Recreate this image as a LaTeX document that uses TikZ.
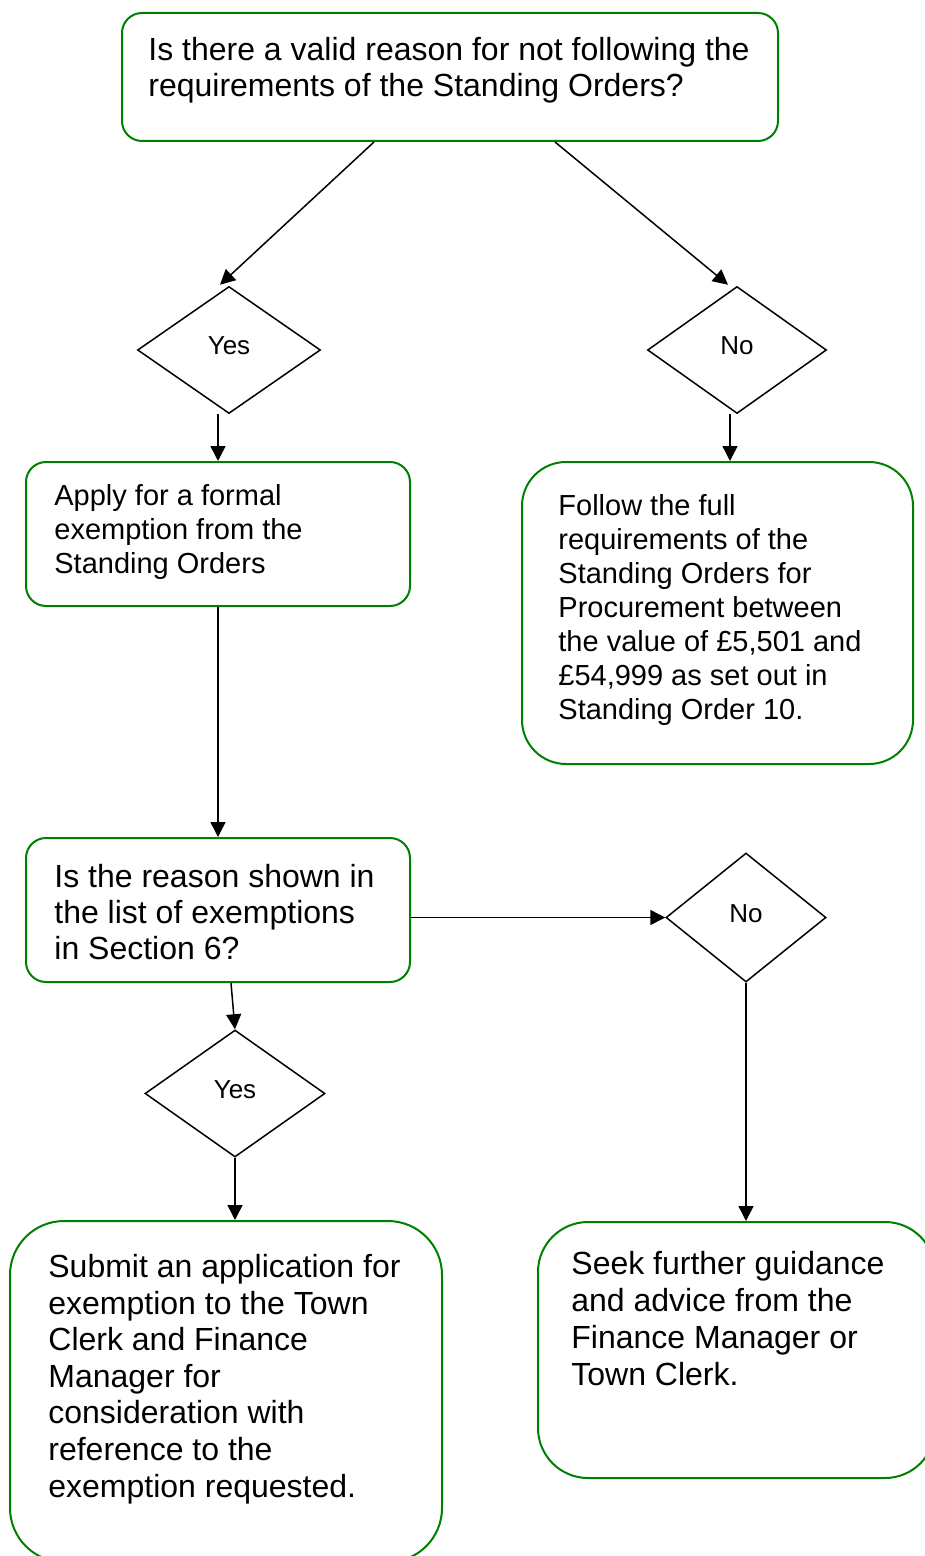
\documentclass[tikz,border=0pt]{standalone}
\usepackage{fontspec}
\setmainfont{Liberation Sans}
\usetikzlibrary{positioning,calc,fit,shapes.geometric,arrows.meta}
\definecolor{boxgreen}{RGB}{0,128,0}
\tikzstyle{box}=[draw=boxgreen, line width=1pt, rounded corners=10pt, inner sep=0pt]
\tikzstyle{bigbox}=[box, rounded corners=22pt]
\tikzstyle{dec}=[draw, diamond, line width=0.75pt, inner sep=0pt, minimum width=91.5pt, minimum height=63.5pt, font=\fontsize{13}{15}\selectfont]
\tikzstyle{txt}=[anchor=base west, align=left, inner sep=0pt, font=\fontsize{16}{18}\selectfont]
\tikzstyle{smalltxt}=[txt, font=\fontsize{14.5}{17}\selectfont]
\tikzstyle{arrow}=[-{Triangle[length=7.5pt,width=7.5pt]}, line width=0.75pt]

\begin{document}
\begin{tikzpicture}[x=0.5pt, y=-0.5pt]
        \useasboundingbox (0,0) rectangle (925,1556);
        % question at the top (texts are placed by their last baseline)
        \node (top) [box, fit={(122,13) (778,141)}] {};
        \node (toptxt) [txt] at (148,97) {Is there a valid reason for not following the\\requirements of the Standing Orders?};
        \node (yes1) [dec] at (229,350) {\raisebox{4pt}{Yes}};
        \node (no1) [dec, minimum width=89.5pt] at (737,350) {\raisebox{4pt}{No}};
        \draw[arrow] ([shift={(-76,0)}]top.south) -- ([shift={(-9,-1)}]yes1.north);
        \draw[arrow] ([shift={(105,0)}]top.south) -- ([shift={(-9,-1)}]no1.north);
        % left branch
        \node (apply) [box, fit={(26,462) (410,606)}] {};
        \node (applytxt) [smalltxt] at (54,573) {Apply for a formal\\exemption from the\\Standing Orders};
        \draw[arrow] (yes1.south -| apply.north) -- (apply.north);
        % right branch
        \node (follow) [bigbox, fit={(522,462) (913,764)}] {};
        \node (followtxt) [smalltxt] at (558,719) {Follow the full\\requirements of the\\Standing Orders for\\Procurement between\\the value of \pounds5,501 and\\\pounds54,999 as set out in\\Standing Order 10.};
        \coordinate (nodrop) at ([shift={(-7,0)}]no1.south);
        \draw[arrow] (nodrop) -- (nodrop |- follow.north);
        % second question
        \node (reason) [box, fit={(26,838) (410,982)}] {};
        \node (reasontxt) [txt] at (54,959) {Is the reason shown in\\the list of exemptions\\in Section 6?};
        \draw[arrow] (apply.south) -- (reason.north);
        \node (yes2) [dec, minimum width=90pt] at (235,1093.5) {\raisebox{4pt}{Yes}};
        \node (no2) [dec, minimum width=80pt, minimum height=64.5pt] at (746,917.5) {\raisebox{4pt}{No}};
        \draw[arrow] (reason.east |- no2.west) -- (no2.west);
        \draw[arrow] ([shift={(13,0)}]reason.south) -- (yes2.north);
        % outcomes
        \node (submit) [bigbox, rounded corners=27pt, fit={(10,1221) (442,1562)}] {};
        \node (submittxt) [txt, font=\fontsize{16}{18.3}\selectfont] at (48,1497) {Submit an application for\\exemption to the Town\\Clerk and Finance\\Manager for\\consideration with\\reference to the\\exemption requested.};
        \node (seek) [bigbox, rounded corners=25pt, fit={(538,1222) (935,1478)}] {};
        \node (seektxt) [txt, font=\fontsize{16}{18.5}\selectfont] at (571,1385) {Seek further guidance\\and advice from the\\Finance Manager or\\Town Clerk.};
        \draw[arrow] (yes2.south) -- (yes2.south |- submit.north);
        \draw[arrow] (no2.south) -- (no2.south |- seek.north);
\end{tikzpicture}
\end{document}
